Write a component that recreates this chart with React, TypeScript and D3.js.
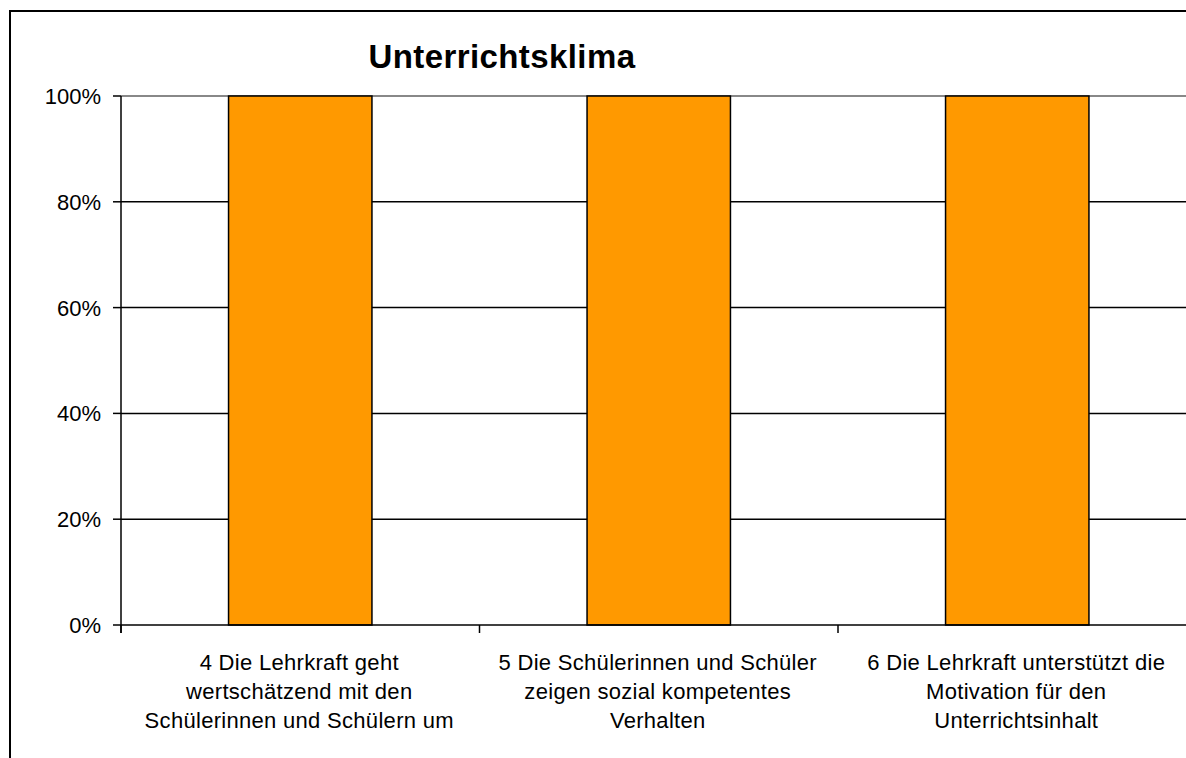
import React from "react";
import * as d3 from "d3";

const categories = [
  ["4 Die Lehrkraft geht", "wertschätzend mit den", "Schülerinnen und Schülern um"],
  ["5 Die Schülerinnen und Schüler", "zeigen sozial kompetentes", "Verhalten"],
  ["6 Die Lehrkraft unterstützt die", "Motivation für den", "Unterrichtsinhalt"],
];
const values = [1, 1, 1];
const yTicks = [0, 0.2, 0.4, 0.6, 0.8, 1];
const title = "Unterrichtsklima";

export default function App() {
  const W = 1186, H = 758;
  const left = 121, top = 96, bottom = 625, bandW = 358.5;
  const keys = categories.map((_, i) => String(i));
  const x = d3.scaleBand().domain(keys).range([left, left + bandW * 3]).paddingInner(0).paddingOuter(0);
  const y = d3.scaleLinear().domain([0, 1]).range([bottom, top]);
  const fmt = d3.format(".0%");
  const font = "Arial, 'Liberation Sans', sans-serif";
  const barW = x.bandwidth() * 0.4;
  const plotRight = left + bandW * 3;

  return (
    <svg width={W} height={H} style={{ position: "absolute", left: 0, top: 0, display: "block" }} fontFamily={font}>
      <rect x={0} y={0} width={W} height={H} fill="#fff" />
      <rect x={10} y={11} width={1300} height={900} fill="#fff" stroke="#000" strokeWidth={2} />
      <text x={502} y={68} textAnchor="middle" fontSize={33} fontWeight="bold" letterSpacing={0.4} fill="#000">{title}</text>
      {yTicks.map((t) => (
        <g key={t}>
          {t > 0 && t < 1 && (
            <line x1={left} x2={plotRight} y1={y(t)} y2={y(t)} stroke="#000" strokeWidth={1.5} />
          )}
          <line x1={left - 8} x2={left} y1={y(t)} y2={y(t)} stroke="#000" strokeWidth={1.5} />
          <text x={101} y={y(t)} dy="0.36em" textAnchor="end" fontSize={22} fill="#000">{fmt(t)}</text>
        </g>
      ))}
      <line x1={left} x2={plotRight} y1={y(1)} y2={y(1)} stroke="#888" strokeWidth={2} />
      {values.map((v, i) => {
        const cx = (x(String(i)) as number) + x.bandwidth() / 2;
        return (
          <rect key={i} x={cx - barW / 2} y={y(v)} width={barW} height={y(0) - y(v)}
            fill="#FF9900" stroke="#000" strokeWidth={1.5} />
        );
      })}
      <line x1={left} x2={left} y1={top} y2={bottom + 8} stroke="#000" strokeWidth={1.5} />
      <line x1={left} x2={plotRight} y1={bottom} y2={bottom} stroke="#000" strokeWidth={1.5} />
      {keys.map((k) => (
        <line key={k} x1={(x(k) as number)} x2={(x(k) as number)} y1={bottom} y2={bottom + 8} stroke="#000" strokeWidth={1.5} />
      ))}
      {categories.map((lines, i) => {
        const cx = (x(String(i)) as number) + x.bandwidth() / 2 - 1;
        return (
          <text key={i} textAnchor="middle" fontSize={22} letterSpacing={0.3} fill="#000">
            {lines.map((l, j) => (
              <tspan key={j} x={cx} y={670 + j * 29}>{l}</tspan>
            ))}
          </text>
        );
      })}
    </svg>
  );
}
